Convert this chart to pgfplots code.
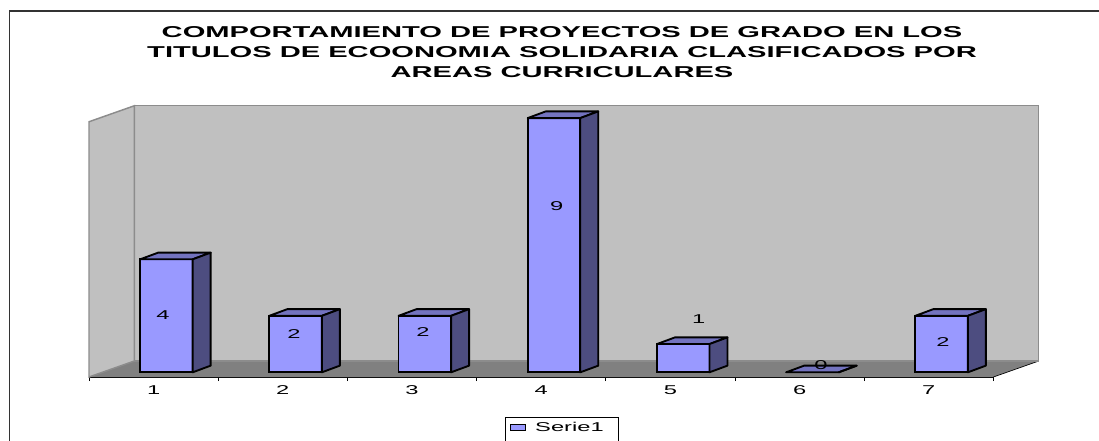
\documentclass[border=0pt]{standalone}
\usepackage{pgfplots}
\usepackage{pgfplotstable}
\usepackage{fontspec}
\pgfplotsset{compat=1.18}
\setmainfont[FakeStretch=1.85]{Liberation Sans}
\definecolor{wall}{HTML}{C0C0C0}
\definecolor{wallline}{HTML}{8C8C8C}
\definecolor{floorc}{HTML}{808080}
\definecolor{barfront}{HTML}{9999FF}
\definecolor{bartop}{HTML}{7373BF}
\definecolor{barside}{HTML}{4D4D80}
\definecolor{framec}{HTML}{333333}

\pgfplotstableread{
x y
1 4
2 2
3 2
4 9
5 1
6 0
7 2
}\bardata

% where the value labels sit in the picture
\pgfplotstableread{
x y label
1.073 2.01 4
2.087 1.36 2
3.085 1.43 2
4.120 5.90 9
5.219 1.90 1
6.166 0.27 0
7.110 1.08 2
}\labeldata

\begin{document}
\begin{tikzpicture}
\path[use as bounding box] (0,0) rectangle (824.25pt,330pt);
% outer frame, cut by the right and bottom of the image
\draw[framec,line width=1.1pt] (7.1pt,-5pt) -- (7.1pt,321.75pt) -- (830pt,321.75pt);
\begin{axis}[
    at={(66.75pt,47.25pt)},
    anchor=south west,
    x=96.9pt,
    y=21.1875pt,
    xmin=0.5, xmax=7.5,
    ymin=-0.166, ymax=8.87,
    clip=false,
    axis y line=none,
    axis x line*=bottom,
    axis line style={-,line width=1.1pt,black},
    xtick={1,2,3,4,5,6,7},
    xticklabels={1,2,3,4,5,6,7},
    minor xtick={0.5,1.5,2.5,3.5,4.5,5.5,6.5,7.5},
    major tick length=0pt,
    minor tick length=3pt,
    tick align=outside,
    minor tick style={black,line width=0.5pt},
    tick label style={font=\fontsize{9.6}{11}\selectfont},
    xticklabel style={yshift=-3pt},
    title={\textbf{COMPORTAMIENTO DE PROYECTOS DE GRADO EN LOS}\\
           \textbf{TITULOS DE ECOONOMIA SOLIDARIA CLASIFICADOS POR}\\
           \textbf{AREAS CURRICULARES}},
    title style={at={(0.523,1.2415)},anchor=center,align=center,
                 font=\fontsize{11.8}{14.7}\selectfont,inner sep=0pt},
    legend style={at={(0.5188,-0.1986)},anchor=center,draw=none,fill=none,
                  font=\fontsize{9.6}{11}\selectfont,
                  /tikz/every odd column/.append style={column sep=5pt}},
    legend image code/.code={
        \draw[fill=barfront,draw=black,line width=0.9pt]
            (0pt,-2.4pt) rectangle (11pt,2.4pt);
    },
]
% walls and floor of the 3D box
\fill[floorc] (axis cs:0.5,-0.166) -- (axis cs:0.851,0.4) -- (axis cs:7.851,0.4) -- (axis cs:7.5,-0.166) -- cycle;
\draw[black,line width=0.5pt] (axis cs:7.5,-0.166) -- (axis cs:7.851,0.4);
\filldraw[fill=wall,draw=wallline,line width=1.1pt]
    (axis cs:0.851,0.4) -- (axis cs:0.851,9.436) -- (axis cs:7.851,9.436) -- (axis cs:7.851,0.4) -- cycle;
\filldraw[fill=wall,draw=wallline,line width=1.1pt]
    (axis cs:0.5,-0.166) -- (axis cs:0.5,8.87) -- (axis cs:0.851,9.436) -- (axis cs:0.851,0.4) -- cycle;

\addplot[ybar,bar width=39.4pt,bar shift=9.6pt,fill=barfront,draw=black,line width=1.4pt]
    table[x=x,y=y] {\bardata};
\addlegendentry{Serie1}

% top and side faces of each bar, hanging from the bar's value
\addplot[
    scatter,
    only marks,
    mark=*,
    mark size=0pt,
    forget plot,
    visualization depends on={\thisrow{y}*21.1875 \as \barh},
    scatter/@pre marker code/.code={
        \filldraw[fill=bartop,draw=black,line width=1.4pt,line join=round]
            (-10.1pt,0pt) -- (3.4pt,5pt) -- (42.8pt,5pt) -- (29.3pt,0pt) -- cycle;
        \filldraw[fill=barside,draw=black,line width=1.4pt,line join=round]
            (29.3pt,0pt) -- (42.8pt,5pt) -- (42.8pt,5pt-\barh pt) -- (29.3pt,-\barh pt) -- cycle;
        \scope
    },
    scatter/@post marker code/.code={\endscope},
] table[x=x,y=y] {\bardata};

% value labels
\addplot[
    only marks,
    mark=none,
    forget plot,
    point meta=explicit symbolic,
    nodes near coords,
    nodes near coords align={center},
    every node near coord/.append style={font=\fontsize{9.6}{11}\selectfont,inner sep=0pt,text=black},
] table[x=x,y=y,meta=label] {\labeldata};

% legend box, also cut by the bottom of the image
\draw[black,line width=0.5pt] (axis cs:3.72,-1.593) -- ++(0pt,-30pt);
\draw[black,line width=0.5pt] (axis cs:3.72,-1.593) -- (axis cs:4.594,-1.593) -- ++(0pt,-30pt);
\end{axis}
\end{tikzpicture}
\end{document}
